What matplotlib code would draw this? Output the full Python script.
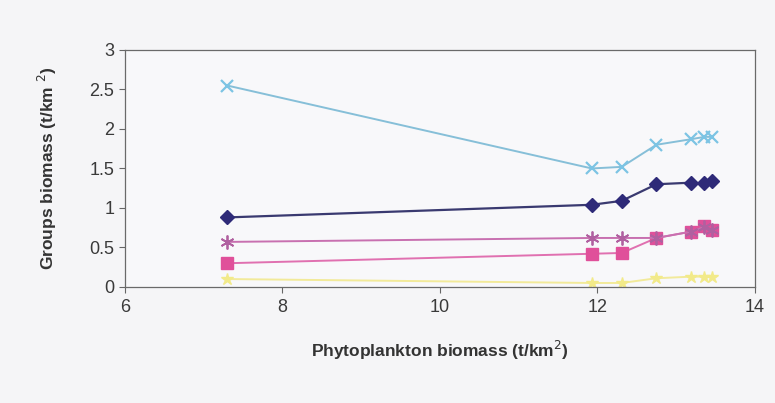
import matplotlib.pyplot as plt

# Phytoplankton biomass (x) and group biomasses (y)
phyto = [7.3, 11.93, 12.31, 12.75, 13.19, 13.36, 13.46]

group_cyan = [2.55, 1.5, 1.52, 1.8, 1.87, 1.9, 1.9]
group_navy = [0.88, 1.04, 1.09, 1.3, 1.32, 1.31, 1.34]
group_purple = [0.57, 0.62, 0.62, 0.62, 0.7, 0.76, 0.72]
group_magenta = [0.3, 0.42, 0.43, 0.62, 0.7, 0.77, 0.72]
group_yellow = [0.1, 0.05, 0.05, 0.11, 0.13, 0.13, 0.13]

x_ticks = [6, 8, 10, 12, 14]
y_ticks = [0, 0.5, 1, 1.5, 2, 2.5, 3]
y_tick_labels = ['0', '0.5', '1', '1.5', '2', '2.5', '3']

plt.rcParams['font.family'] = ['Liberation Sans', 'DejaVu Sans']

fig = plt.figure(figsize=(7.75, 4.03), dpi=100, facecolor='#f5f5f7')
ax = fig.add_axes([0.161, 0.288, 0.813, 0.588])
ax.set_facecolor('#f8f8fa')

ax.plot(phyto, group_yellow, color='#f2ea9a', linewidth=1.4, marker='*',
        markersize=9, markerfacecolor='#f2ea8a', markeredgecolor='#f2ea8a')
ax.plot(phyto, group_magenta, color='#e070b0', linewidth=1.4, marker='s',
        markersize=8, markerfacecolor='#e0509a', markeredgecolor='#e0509a')
ax.plot(phyto, group_purple, color='#c870b0', linewidth=1.4, marker=(6, 2, 0),
        markersize=10, markeredgewidth=1.3, markeredgecolor='#b060a0')
ax.plot(phyto, group_navy, color='#3a3a70', linewidth=1.6, marker='D',
        markersize=7, markerfacecolor='#2e2a78', markeredgecolor='#2e2a78')
ax.plot(phyto, group_cyan, color='#86bfd8', linewidth=1.4, marker='x',
        markersize=9, markeredgewidth=1.6, markeredgecolor='#7cc4e4')

ax.set_xlim(6, 14)
ax.set_ylim(0, 3)
ax.set_xticks(x_ticks)
ax.set_yticks(y_ticks)
ax.set_yticklabels(y_tick_labels)
ax.tick_params(axis='both', labelsize=13, colors='#666666', labelcolor='#3a3a3a',
               length=4, width=0.8)
ax.tick_params(axis='x', pad=5)

for side in ['left', 'right', 'top', 'bottom']:
    ax.spines[side].set_color('#6a6a6a')
    ax.spines[side].set_linewidth(0.9)

ax.set_xlabel('Phytoplankton biomass (t/km$^{2}$)', fontsize=12.5,
              fontweight='bold', color='#333333', labelpad=16)
ax.set_ylabel('Groups biomass (t/km $^{2}$)', fontsize=12.5,
              fontweight='bold', color='#333333', labelpad=22)

plt.savefig('out.png', dpi=100, facecolor=fig.get_facecolor())
plt.close()
